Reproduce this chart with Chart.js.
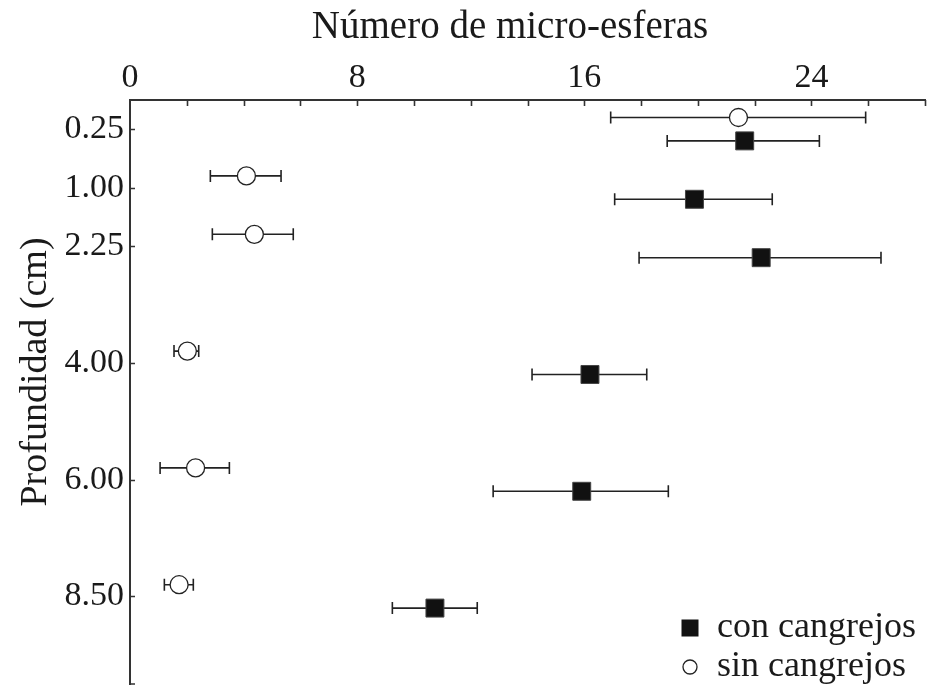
<!DOCTYPE html>
<html>
<head>
<meta charset="utf-8">
<script src="https://cdn.jsdelivr.net/npm/chart.js@4/dist/chart.umd.min.js"></script>
<style>
  html, body { margin: 0; padding: 0; background: #fff; }
  #wrap { width: 928px; height: 690px; }
</style>
</head>
<body>
<div id="wrap"><canvas id="c" width="928" height="690"></canvas></div>
<script>
// Depth classes (cm) and their slot on the vertical axis
const depthLabels = ['0.25', '1.00', '2.25', '4.00', '6.00', '8.50'];
const depthSlots = [0, 1, 2, 4, 6, 8];

// Number of micro-spheres: mean and error-bar limits
const conMean = [21.65, 19.88, 22.23, 16.20, 15.91, 10.74];
const conLow  = [18.92, 17.07, 17.93, 14.16, 12.79, 9.24];
const conHigh = [24.28, 22.62, 26.45, 18.20, 18.96, 12.23];

const sinMean = [21.43, 4.10, 4.38, 2.02, 2.31, 1.73];
const sinLow  = [16.93, 2.83, 2.90, 1.55, 1.06, 1.21];
const sinHigh = [25.91, 5.32, 5.75, 2.42, 3.50, 2.23];

const xTickValues = [0, 8, 16, 24];

const SERIF = '"Liberation Serif", "DejaVu Serif", serif';
const INK = '#1a1a1a';

// the two series sit slightly above / below each depth slot
const SIN_SHIFT = -0.2;
const CON_SHIFT = 0.2;

function points(means, lows, highs, shift) {
  return means.map((m, i) => ({ x: m, y: depthSlots[i] + shift, lo: lows[i], hi: highs[i] }));
}

const errorBars = {
  id: 'errorBars',
  beforeDatasetsDraw(chart) {
    const { ctx, scales: { x, y } } = chart;
    ctx.save();
    ctx.strokeStyle = '#222';
    ctx.lineWidth = 1.6;
    chart.data.datasets.forEach(ds => {
      ds.data.forEach(p => {
        const py = y.getPixelForValue(p.y);
        const x0 = x.getPixelForValue(p.lo);
        const x1 = x.getPixelForValue(p.hi);
        ctx.beginPath();
        ctx.moveTo(x0, py); ctx.lineTo(x1, py);
        ctx.moveTo(x0, py - 6); ctx.lineTo(x0, py + 6);
        ctx.moveTo(x1, py - 6); ctx.lineTo(x1, py + 6);
        ctx.stroke();
      });
    });
    ctx.restore();
  }
};

// inward tick marks, titles and legend
const decorations = {
  id: 'decorations',
  afterDraw(chart) {
    const { ctx, chartArea: a, scales: { x, y } } = chart;
    ctx.save();
    ctx.strokeStyle = '#333';
    ctx.lineWidth = 1.6;
    ctx.beginPath();
    for (let v = 2; v <= 28; v += 2) {
      const px = Math.round(x.getPixelForValue(v)) + 0.5;
      ctx.moveTo(px, a.top); ctx.lineTo(px, a.top + 6);
    }
    depthSlots.forEach(s => {
      const py = Math.round(y.getPixelForValue(s)) + 0.5;
      ctx.moveTo(a.left, py); ctx.lineTo(a.left + 5, py);
    });
    ctx.moveTo(a.left, a.bottom); ctx.lineTo(a.left + 5, a.bottom);
    ctx.stroke();

    ctx.fillStyle = INK;
    ctx.font = '39px ' + SERIF;
    ctx.textAlign = 'center';
    ctx.textBaseline = 'middle';
    ctx.fillText('Número de micro-esferas', 510, 28);

    ctx.save();
    ctx.translate(36, 372);
    ctx.rotate(-Math.PI / 2);
    ctx.font = '38px ' + SERIF;
    ctx.fillText('Profundidad (cm)', 0, 0);
    ctx.restore();

    // legend
    const lx = 690, rows = [628, 667];
    ctx.fillStyle = '#111';
    ctx.fillRect(lx - 8.5, rows[0] - 8.5, 17, 17);
    ctx.beginPath();
    ctx.arc(lx, rows[1], 7, 0, Math.PI * 2);
    ctx.fillStyle = '#fff';
    ctx.fill();
    ctx.lineWidth = 1.3;
    ctx.strokeStyle = '#222';
    ctx.stroke();
    ctx.fillStyle = INK;
    ctx.font = '36px ' + SERIF;
    ctx.textAlign = 'left';
    ctx.fillText('con cangrejos', 717, rows[0]);
    ctx.fillText('sin cangrejos', 717, rows[1]);
    ctx.restore();
  }
};

new Chart(document.getElementById('c'), {
  type: 'scatter',
  data: {
    datasets: [
      {
        label: 'sin cangrejos',
        data: points(sinMean, sinLow, sinHigh, SIN_SHIFT),
        pointStyle: 'circle',
        pointRadius: 9,
        pointHoverRadius: 9,
        backgroundColor: '#ffffff',
        borderColor: '#222',
        borderWidth: 1.3
      },
      {
        label: 'con cangrejos',
        data: points(conMean, conLow, conHigh, CON_SHIFT),
        pointStyle: 'rect',
        pointRadius: 12.7,
        pointHoverRadius: 12.7,
        backgroundColor: '#111111',
        borderColor: '#444',
        borderWidth: 1
      }
    ]
  },
  options: {
    responsive: false,
    animation: false,
    events: [],
    layout: { autoPadding: false, padding: { top: 0, right: 3, bottom: 6, left: 0 } },
    plugins: { legend: { display: false }, tooltip: { enabled: false } },
    scales: {
      x: {
        type: 'linear',
        position: 'top',
        min: 0,
        max: 28,
        afterBuildTicks(scale) { scale.ticks = xTickValues.map(v => ({ value: v })); },
        afterFit(scale) { scale.height = 100; scale.paddingLeft = 0; scale.paddingRight = 0; },
        grid: { display: false, drawTicks: false },
        border: { display: true, color: '#333', width: 2 },
        ticks: {
          color: INK,
          font: { family: SERIF, size: 34 },
          padding: 2,
          maxRotation: 0,
          callback: v => String(v)
        }
      },
      y: {
        type: 'linear',
        reverse: true,
        min: -0.5,
        max: 9.5,
        afterBuildTicks(scale) { scale.ticks = depthSlots.map(v => ({ value: v })); },
        afterFit(scale) { scale.width = 130; scale.paddingTop = 0; scale.paddingBottom = 0; },
        grid: { display: false, drawTicks: false },
        border: { display: true, color: '#333', width: 2 },
        ticks: {
          color: INK,
          font: { family: SERIF, size: 34 },
          padding: 6,
          callback: v => depthLabels[depthSlots.indexOf(v)] ?? ''
        }
      }
    }
  },
  plugins: [errorBars, decorations]
});
</script>
</body>
</html>
